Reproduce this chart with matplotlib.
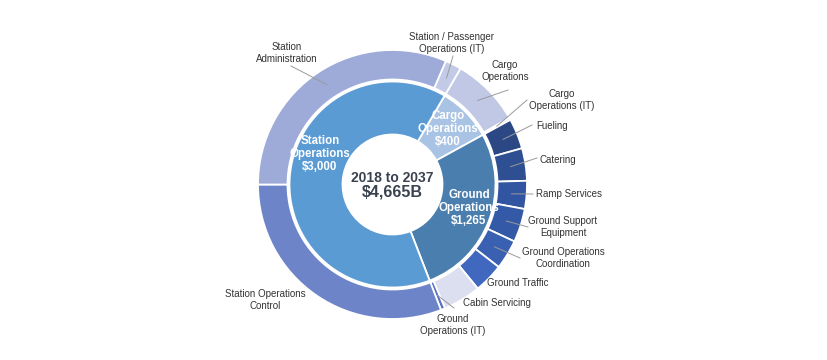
import math
import matplotlib
matplotlib.use('Agg')
import matplotlib.pyplot as plt

plt.rcParams['font.family'] = ['Liberation Sans', 'DejaVu Sans']

# 内側リング (カテゴリ別, $B)
inner_labels = ['Cargo\nOperations\n$400', 'Ground\nOperations\n$1,265', 'Station\nOperations\n$3,000']
inner_values = [400, 1265, 3000]
inner_colors = ['#a8c3e3', '#4a7eae', '#5b9bd4']

# 外側リング (サブカテゴリ, 見た目から推定)
outer_names = ['Cargo Operations', 'Cargo Operations (IT)', 'Fueling', 'Catering', 'Ramp Services',
               'Ground Support Equipment', 'Ground Operations Coordination', 'Ground Traffic',
               'Cabin Servicing', 'Ground Operations (IT)', 'Station Operations Control',
               'Station Administration', 'Station / Passenger Operations (IT)']
outer_values = [388, 12, 170, 182, 157, 188, 166, 166, 212, 24, 1440, 1470, 90]
outer_colors = ['#c0c8e5', '#c8cee8', '#2b4885', '#2e4f92', '#3155a0', '#3459a7', '#3a60b1',
                '#4068bf', '#dcdff0', '#5a72c1', '#6d85c8', '#9eabd8', '#c3cae7']

total = sum(inner_values)
center_text = ['2018 to 2037', '$4,665B']

W, H = 828, 360
fig = plt.figure(figsize=(W/100, H/100), dpi=100)
ax = fig.add_axes([0, 0, 1, 1])

CX, CY = 392.5, H - 184.5
R_OUT, R_MID_OUT, R_MID_IN, R_IN = 134.5, 105, 103, 50

# Station Admin + IT の終わりが 180度 (左水平) に来るように開始角を決める
start = 180 - (outer_values[-2] + outer_values[-1]) / total * 360

ax.pie(outer_values, radius=R_OUT, center=(CX, CY), colors=outer_colors,
       startangle=start, counterclock=False,
       wedgeprops=dict(width=R_OUT - R_MID_OUT, edgecolor='white', linewidth=1.3))
ax.pie(inner_values, radius=R_MID_IN, center=(CX, CY), colors=inner_colors,
       startangle=start, counterclock=False,
       wedgeprops=dict(width=R_MID_IN - R_IN, edgecolor='white', linewidth=1.3))

ax.set_xlim(0, W)
ax.set_ylim(0, H)
ax.set_aspect('equal')
ax.axis('off')

# 中央テキスト
ax.text(CX, H - 178, center_text[0], ha='center', va='center', fontsize=10,
        fontweight='bold', color='#3a4250')
ax.text(CX, H - 192, center_text[1], ha='center', va='center', fontsize=11.5,
        fontweight='bold', color='#3a4250')

# 内側ラベル位置 (px)
inner_pos = [(448, 129), (469, 208), (320, 154)]
for lab, (px, py) in zip(inner_labels, inner_pos):
    ax.text(px, H - py, lab, ha='center', va='center', fontsize=8.3,
            fontweight='bold', color='white', linespacing=1.1)

# 外側ラベル: (表示テキスト, テキスト位置px, 揃え, 引き出し線の端px or None)
label_layout = {
    'Station Administration': ('Station\nAdministration', (287, 53), 'center', (291, 66)),
    'Station / Passenger Operations (IT)': ('Station / Passenger\nOperations (IT)', (452, 43), 'center', (453, 56)),
    'Cargo Operations': ('Cargo\nOperations', (505, 71), 'center', (508, 90)),
    'Cargo Operations (IT)': ('Cargo\nOperations (IT)', (562, 100), 'center', (527, 100)),
    'Fueling': ('Fueling', (536, 126), 'left', (532, 125)),
    'Catering': ('Catering', (540, 160), 'left', (537, 158)),
    'Ramp Services': ('Ramp Services', (536, 194), 'left', (533, 194)),
    'Ground Support Equipment': ('Ground Support\nEquipment', (563, 227), 'center', (528, 227)),
    'Ground Operations Coordination': ('Ground Operations\nCoordination', (563, 258), 'center', (520, 258)),
    'Ground Traffic': ('Ground Traffic', (487, 283), 'left', None),
    'Cabin Servicing': ('Cabin Servicing', (463, 303), 'left', None),
    'Ground Operations (IT)': ('Ground\nOperations (IT)', (453, 325), 'center', (454, 308)),
    'Station Operations Control': ('Station Operations\nControl', (265, 300), 'center', None),
}

angle = start
for name, val in zip(outer_names, outer_values):
    span = val / total * 360
    mid = math.radians(angle - span / 2)
    angle -= span
    txt, (tx, ty), ha, lead = label_layout[name]
    ax.text(tx, H - ty, txt, ha=ha, va='center', fontsize=7, color='#333333',
            linespacing=1.25, multialignment='center')
    if lead is not None:
        r = 119.5
        ax.plot([CX + r * math.cos(mid), lead[0]], [CY + r * math.sin(mid), H - lead[1]],
                color='#9a9a9a', linewidth=0.7)

fig.savefig('out.png', dpi=100)
